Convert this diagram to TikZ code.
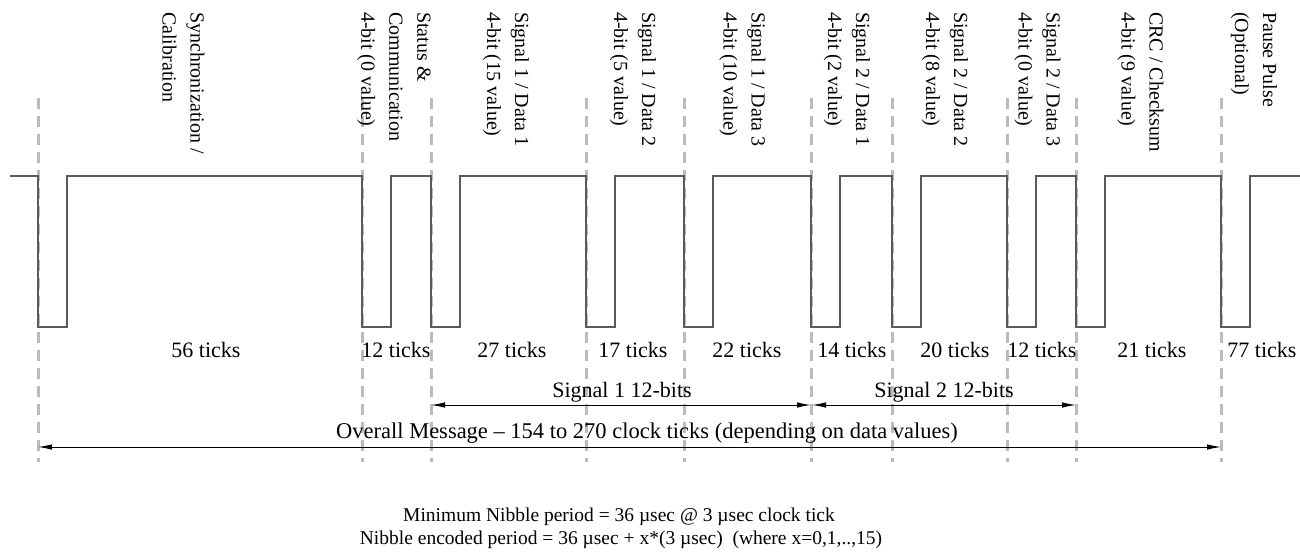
\documentclass[tikz,border=0pt]{standalone}
\usepackage{fontspec}
\setmainfont{Liberation Serif}
\usetikzlibrary{arrows.meta}
\definecolor{wave}{HTML}{5A5A5A}
\definecolor{guide}{HTML}{BBBBBB}
\begin{document}
\begin{tikzpicture}[x=1pt,y=-1pt,
  waveline/.style={draw=wave,line width=1.3pt,line join=miter},
  guideline/.style={draw=guide,line width=3pt,dash pattern=on 11pt off 7pt},
  vlab/.style={rotate=-90,anchor=west,align=left,inner sep=0pt,font=\fontsize{20}{28}\selectfont},
  ticklab/.style={inner sep=0pt,font=\fontsize{22}{26}\selectfont},
  dimarrow/.style={draw=black,line width=1pt,{Latex[length=14pt,width=5.5pt]}-{Latex[length=14pt,width=5.5pt]}},
  notelab/.style={inner sep=0pt,align=center,font=\fontsize{19.5}{23}\selectfont}]
\useasboundingbox (0,0) rectangle (1300,555);
% guide lines
\foreach \n/\x in {0/38,1/362,2/431,3/586,4/684,5/811,6/892,7/1007,8/1076,9/1221}{
  \coordinate (top\n) at (\x,98);
  \coordinate (bot\n) at (\x,462);
  \draw[guideline] (top\n) -- (bot\n);
}
% waveform
\coordinate (ws) at (10,176);
\coordinate (we) at (1300,176);
\draw[waveline] (ws) -- (38,176) -- (38,327) -- (67,327) -- (67,176) -- (362,176) -- (362,327) -- (391,327) -- (391,176) -- (431,176) -- (431,327) -- (460,327) -- (460,176) -- (586,176) -- (586,327) -- (615,327) -- (615,176) -- (684,176) -- (684,327) -- (713,327) -- (713,176) -- (811,176) -- (811,327) -- (840,327) -- (840,176) -- (892,176) -- (892,327) -- (921,327) -- (921,176) -- (1007,176) -- (1007,327) -- (1036,327) -- (1036,176) -- (1076,176) -- (1076,327) -- (1105,327) -- (1105,176) -- (1221,176) -- (1221,327) -- (1250,327) -- (1250,176) -- (we);
% vertical labels
\node[vlab] (l0) at (183.5,12) {Synchronization /\\Calibration};
\node[vlab] (l1) at (394,12) {Status \&\\Communication\\4-bit (0 value)};
\node[vlab] (l2) at (506,12) {Signal 1 / Data 1\\4-bit (15 value)};
\node[vlab] (l3) at (633,12) {Signal 1 / Data 2\\4-bit (5 value)};
\node[vlab] (l4) at (742.5,12) {Signal 1 / Data 3\\4-bit (10 value)};
\node[vlab] (l5) at (847,12) {Signal 2 / Data 1\\4-bit (2 value)};
\node[vlab] (l6) at (945,12) {Signal 2 / Data 2\\4-bit (8 value)};
\node[vlab] (l7) at (1037.5,12) {Signal 2 / Data 3\\4-bit (0 value)};
\node[vlab] (l8) at (1140.5,12) {CRC / Checksum\\4-bit (9 value)};
\node[vlab] (l9) at (1254,12) {Pause Pulse\\(Optional)};
% tick labels
\node[ticklab] (k0) at (206,350) {56 ticks};
\node[ticklab] (k1) at (396,350) {12 ticks};
\node[ticklab] (k2) at (512,350) {27 ticks};
\node[ticklab] (k3) at (633,350) {17 ticks};
\node[ticklab] (k4) at (747,350) {22 ticks};
\node[ticklab] (k5) at (852,350) {14 ticks};
\node[ticklab] (k6) at (955,350) {20 ticks};
\node[ticklab] (k7) at (1042,350) {12 ticks};
\node[ticklab] (k8) at (1152,350) {21 ticks};
\node[ticklab] (k9) at (1262,350) {77 ticks};
% dimension arrows
\coordinate (s1a) at (431,405);
\coordinate (s1b) at (811,405);
\coordinate (s2a) at (812,405);
\coordinate (s2b) at (1076,405);
\coordinate (oa) at (38,447);
\coordinate (ob) at (1221,447);
\draw[dimarrow] (s1a) -- (s1b);
\draw[dimarrow] (s2a) -- (s2b);
\draw[dimarrow] (oa) -- (ob);
\node[ticklab] (sig1) at (622,392) {Signal 1 12-bits};
\node[ticklab] (sig2) at (944,392) {Signal 2 12-bits};
\node[ticklab,font=\fontsize{22.5}{26}\selectfont] (ov) at (647,433) {Overall Message – 154 to 270 clock ticks (depending on data values)};
% notes
\node[notelab] (n1) at (619,517) {Minimum Nibble period = 36 µsec @ 3 µsec clock tick};
\node[notelab] (n2) at (621,540) {Nibble encoded period = 36 µsec + x*(3 µsec)~~(where x=0,1,..,15)};
\end{tikzpicture}
\end{document}
